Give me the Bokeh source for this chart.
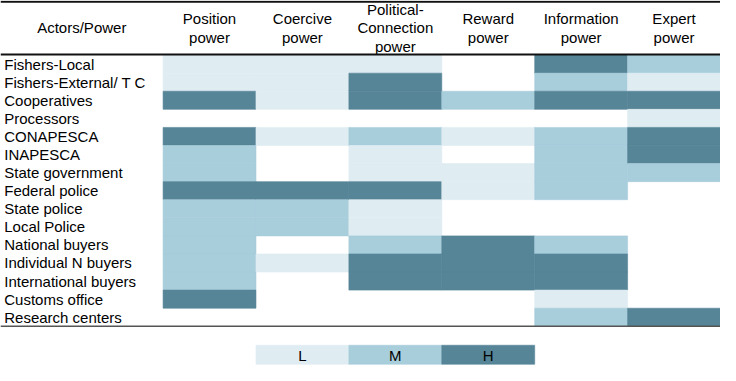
from bokeh.plotting import figure
from bokeh.models import Range1d, Span, ColumnDataSource
from bokeh.core.properties import value
from bokeh.embed import file_html
from bokeh.resources import INLINE

# ---- data ----
corner_label = "Actors/Power"
columns = [["Position", "power"], ["Coercive", "power"],
           ["Political-", "Connection", "power"], ["Reward", "power"],
           ["Information", "power"], ["Expert", "power"]]
actors = ["Fishers-Local", "Fishers-External/ T C", "Cooperatives", "Processors",
          "CONAPESCA", "INAPESCA", "State government", "Federal police",
          "State police", "Local Police", "National buyers", "Individual N buyers",
          "International buyers", "Customs office", "Research centers"]
# 0 = none, 1 = L, 2 = M, 3 = H ; columns order as above
position    = [1, 1, 3, 0, 3, 2, 2, 3, 2, 2, 2, 2, 2, 3, 0]
coercive    = [1, 1, 1, 0, 1, 0, 0, 3, 2, 2, 0, 1, 0, 0, 0]
political   = [1, 3, 3, 0, 2, 1, 1, 3, 1, 1, 2, 3, 3, 0, 0]
reward      = [0, 0, 2, 0, 1, 0, 1, 1, 0, 0, 3, 3, 3, 0, 0]
information = [3, 2, 3, 0, 2, 2, 2, 2, 0, 0, 2, 3, 3, 1, 2]
expert      = [2, 1, 3, 1, 3, 3, 2, 0, 0, 0, 0, 0, 0, 0, 3]
legend_labels = ["L", "M", "H"]
level_colors = {1: "#dfecf2", 2: "#a8cddb", 3: "#568597"}

series = [position, coercive, political, reward, information, expert]

FONT = value("Liberation Sans")
FS = "15px"
TC = "#000000"

p = figure(width=720, height=365, output_backend="svg", toolbar_location=None,
           x_range=Range1d(-1.75, 6.0), y_range=Range1d(17.17, -3.02),
           min_border=0, outline_line_color=None, background_fill_color="white")
p.axis.visible = False
p.grid.visible = False

# cells
left, right, top, bottom, colors = [], [], [], [], []
for ci, col in enumerate(series):
    for ri, lvl in enumerate(col):
        if lvl > 0:
            left.append(ci); right.append(ci + 1)
            top.append(ri); bottom.append(ri + 1)
            colors.append(level_colors[lvl])
src = ColumnDataSource(dict(left=left, right=right, top=top, bottom=bottom, color=colors))
p.quad(left="left", right="right", top="top", bottom="bottom", source=src,
       fill_color="color", line_color="color", line_width=0.6)

# row labels
p.text(x=[-1.71] * len(actors), y=[r + 0.5 for r in range(len(actors))], text=actors,
       text_font=FONT, text_font_size=FS, text_align="left", text_baseline="middle",
       text_color=TC)

# header labels
hx, hy, ht = [-0.875], [-1.5], [corner_label]
for ci, lines in enumerate(columns):
    n = len(lines)
    for li, t in enumerate(lines):
        hx.append(ci + 0.5)
        hy.append(-1.5 - (n - 1) / 2 + li)
        ht.append(t)
p.text(x=hx, y=hy, text=ht, text_font=FONT, text_font_size=FS, text_align="center",
       text_baseline="middle", text_color=TC)

# rules
p.add_layout(Span(location=-2.95, dimension="width", line_color="#111111", line_width=2))
p.add_layout(Span(location=-0.03, dimension="width", line_color="#111111", line_width=2))
p.add_layout(Span(location=15.0, dimension="width", line_color="#555555", line_width=1.5))

# legend boxes
lg_levels = [1, 2, 3]
lg_x = [1, 2, 3]
p.quad(left=lg_x, right=[x + 1 for x in lg_x], top=[16.05] * 3, bottom=[17.1] * 3,
       fill_color=[level_colors[l] for l in lg_levels],
       line_color=[level_colors[l] for l in lg_levels], line_width=0.6)
p.text(x=[x + 0.5 for x in lg_x], y=[16.6] * 3, text=legend_labels, text_font=FONT,
       text_font_size=FS, text_align="center", text_baseline="middle", text_color=TC)

open("out.html", "w").write(file_html(p, INLINE))
